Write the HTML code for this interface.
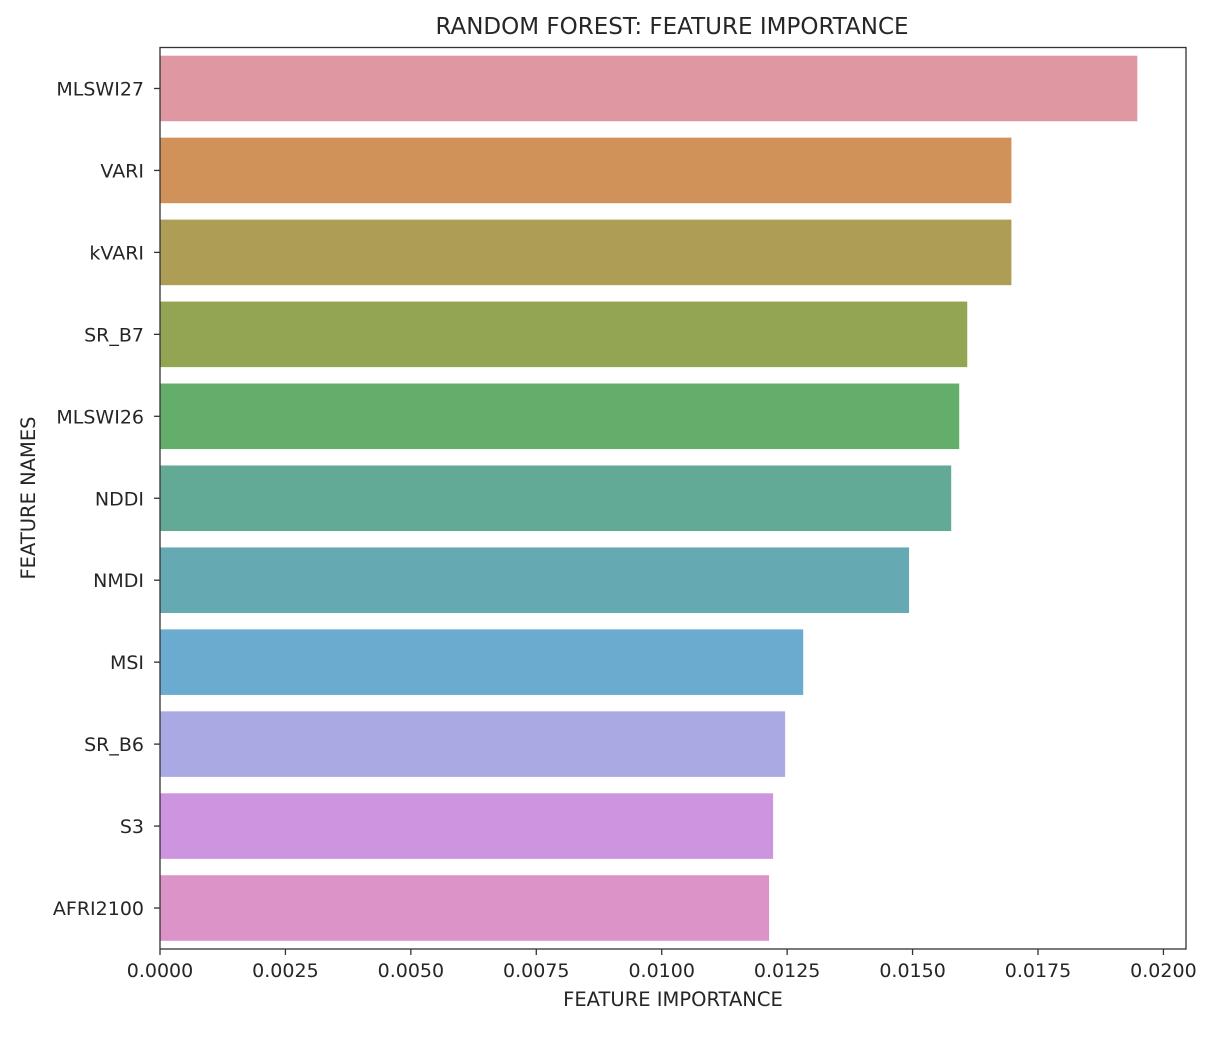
<!DOCTYPE html>
<html><head><meta charset="utf-8">
<style>
html,body{margin:0;padding:0;background:#fff;}
svg text{font-family:"DejaVu Sans","Liberation Sans",sans-serif;fill:#262626;}
</style></head>
<body>
<svg id="chart" width="1220" height="1034" xmlns="http://www.w3.org/2000/svg">
<text x="672" y="34" font-size="23" text-anchor="middle">RANDOM FOREST: FEATURE IMPORTANCE</text>
<g id="bars"></g>
<g id="yticks"></g>
<g id="xticks"></g>
<rect x="160" y="47.5" width="1026" height="901.5" fill="none" stroke="#333" stroke-width="1.3"/>
<text x="673" y="1006" font-size="19.5" text-anchor="middle">FEATURE IMPORTANCE</text>
<text transform="translate(35,498) rotate(-90)" font-size="19.5" text-anchor="middle">FEATURE NAMES</text>
</svg>
<script>
const categories = ["MLSWI27","VARI","kVARI","SR_B7","MLSWI26","NDDI","NMDI","MSI","SR_B6","S3","AFRI2100"];
const importances = [0.01948,0.01697,0.01697,0.01609,0.01593,0.01577,0.01493,0.01282,0.01246,0.01222,0.01214];
const colors = ["#df98a2","#d19259","#ae9d55","#93a453","#63ae6b","#62aa95","#65aab3","#6babd0","#a9aae3","#cd95e0","#dc93c7"];
const xTicks = [0,0.0025,0.005,0.0075,0.01,0.0125,0.015,0.0175,0.02];
const xTickLabels = ["0.0000","0.0025","0.0050","0.0075","0.0100","0.0125","0.0150","0.0175","0.0200"];

const NS = "http://www.w3.org/2000/svg";
const plotLeft = 160, plotRight = 1186, plotTop = 47.5, plotBottom = 949;
const xMax = 0.02045;
function xScale(v){ return plotLeft + v / xMax * (plotRight - plotLeft); }
const band = (plotBottom - plotTop) / categories.length;
function yCenter(i){ return plotTop + band * (i + 0.5); }

const gb = document.getElementById('bars');
const gy = document.getElementById('yticks');
const gx = document.getElementById('xticks');
categories.forEach((c, i) => {
  const r = document.createElementNS(NS, 'rect');
  const h = band * 0.8;
  r.setAttribute('x', xScale(0));
  r.setAttribute('y', yCenter(i) - h / 2);
  r.setAttribute('width', xScale(importances[i]) - xScale(0));
  r.setAttribute('height', h);
  r.setAttribute('fill', colors[i]);
  
  
  gb.appendChild(r);
  const t = document.createElementNS(NS, 'line');
  t.setAttribute('x1', plotLeft - 6); t.setAttribute('x2', plotLeft);
  t.setAttribute('y1', yCenter(i)); t.setAttribute('y2', yCenter(i));
  t.setAttribute('stroke', '#333'); t.setAttribute('stroke-width', '1.3');
  
  
  gy.appendChild(t);
  const l = document.createElementNS(NS, 'text');
  l.setAttribute('x', plotLeft - 16);
  l.setAttribute('y', yCenter(i) + 7);
  l.setAttribute('font-size', '19');
  l.setAttribute('text-anchor', 'end');
  l.textContent = c;
  
  
  gy.appendChild(l);
});
xTicks.forEach((v, i) => {
  const x = xScale(v);
  const t = document.createElementNS(NS, 'line');
  t.setAttribute('x1', x); t.setAttribute('x2', x);
  t.setAttribute('y1', plotBottom); t.setAttribute('y2', plotBottom + 6);
  t.setAttribute('stroke', '#333'); t.setAttribute('stroke-width', '1.3');
  
  
  gx.appendChild(t);
  const l = document.createElementNS(NS, 'text');
  l.setAttribute('x', x);
  l.setAttribute('y', plotBottom + 28);
  l.setAttribute('font-size', '19');
  l.setAttribute('text-anchor', 'middle');
  l.textContent = xTickLabels[i];
  
  
  gx.appendChild(l);
});
</script>
</body></html>
